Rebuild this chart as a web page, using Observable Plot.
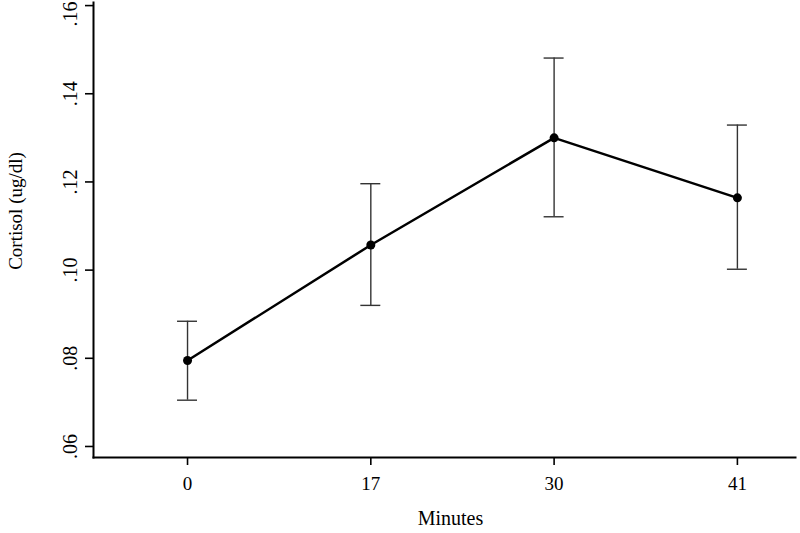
<!DOCTYPE html>
<html>
<head>
<meta charset="utf-8">
<script src="https://cdn.jsdelivr.net/npm/d3@7"></script>
<script src="https://cdn.jsdelivr.net/npm/@observablehq/plot@0.6"></script>
<style>
  html, body { margin: 0; padding: 0; background: #fff; }
  #chart svg { display: block; }
</style>
</head>
<body>
<div id="chart"></div>
<script>
// Data
const minutes = ["0", "17", "30", "41"];
const means = [0.0795, 0.1057, 0.1300, 0.1164];
const lower = [0.0705, 0.0920, 0.1121, 0.1002];
const upper = [0.0884, 0.1196, 0.1481, 0.1329];
const yTickValues = [0.06, 0.08, 0.10, 0.12, 0.14, 0.16];
const yTickLabels = [".06", ".08", ".10", ".12", ".14", ".16"];
const xTitle = "Minutes";
const yTitle = "Cortisol (ug/dl)";

const rows = minutes.map((m, i) => ({ i, m, mean: means[i], lo: lower[i], hi: upper[i] }));
const yTicks = yTickValues.map((v, k) => ({ v, label: yTickLabels[k] }));
const yTicksInner = yTicks.slice(0, -1);
const yTickTop = yTicks.slice(-1);
const cap = 0.0545;

const chart = Plot.plot({
  width: 800,
  height: 533,
  marginLeft: 93,
  marginRight: 5,
  marginTop: 2,
  marginBottom: 76,
  style: { fontFamily: "'Liberation Serif', 'Times New Roman', serif", fontSize: "19px", color: "black", background: "white" },
  x: { type: "linear", domain: [-0.513, 3.317] },
  y: { domain: [0.0575, 0.1607] },
  marks: [
    Plot.ruleX(rows, { x: "i", y1: "lo", y2: "hi", stroke: "#333", strokeWidth: 1.4 }),
    Plot.ruleY(rows, { y: "hi", x1: d => d.i - cap, x2: d => d.i + cap, stroke: "#333", strokeWidth: 1.4 }),
    Plot.ruleY(rows, { y: "lo", x1: d => d.i - cap, x2: d => d.i + cap, stroke: "#333", strokeWidth: 1.4 }),
    Plot.line(rows, { x: "i", y: "mean", stroke: "black", strokeWidth: 2.5 }),
    Plot.dot(rows, { x: "i", y: "mean", r: 4.5, fill: "black", stroke: "none" }),
    Plot.axisX({ ticks: rows.map(d => d.i), tickFormat: i => minutes[i], tickSize: 8, tickPadding: 11, strokeWidth: 1.6, label: null, fontSize: 19 }),
    Plot.axisY({ ticks: yTickValues, tickSize: 8, tickFormat: () => "", strokeWidth: 1.6, label: null }),
    Plot.frame({ anchor: "left", stroke: "black", strokeWidth: 2 }),
    Plot.frame({ anchor: "bottom", stroke: "black", strokeWidth: 2 }),
    Plot.text(yTicksInner, { y: "v", text: "label", frameAnchor: "left", textAnchor: "middle", dx: -23, rotate: -90, fontSize: 20, fill: "black" }),
    Plot.text(yTickTop, { y: "v", text: "label", frameAnchor: "left", textAnchor: "end", dx: -23, dy: -4, rotate: -90, fontSize: 20, fill: "black" }),
    Plot.text([xTitle], { frameAnchor: "bottom", dx: 6, dy: 67, fontSize: 20, fill: "black" }),
    Plot.text([yTitle], { frameAnchor: "left", textAnchor: "middle", dx: -78, dy: -19, rotate: -90, fontSize: 19, fill: "black" })
  ]
});
document.getElementById("chart").appendChild(chart);
</script>
</body>
</html>
